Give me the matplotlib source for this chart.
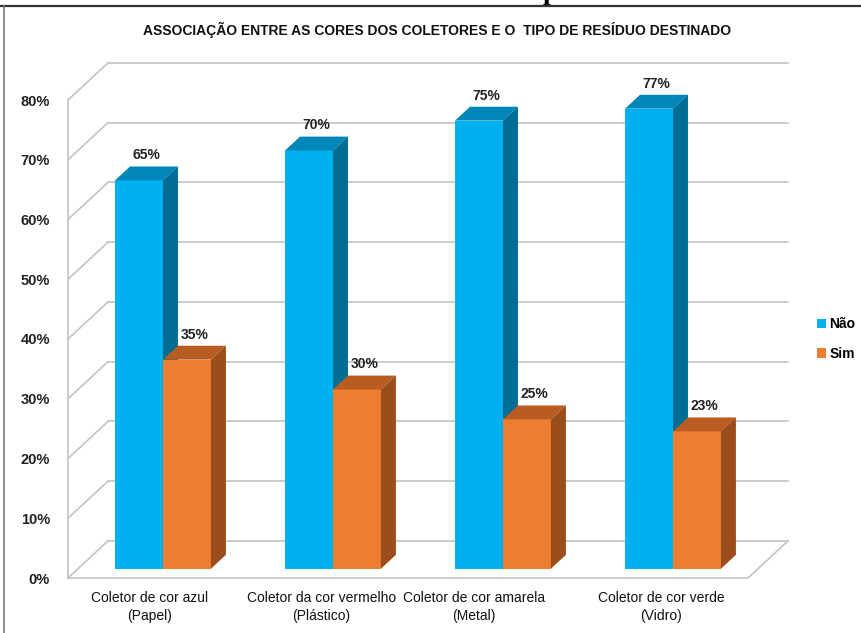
import numpy as np
import matplotlib
matplotlib.use("Agg")
import matplotlib.pyplot as plt
from matplotlib.patches import Polygon
from matplotlib.lines import Line2D

# --- data ---
categories = [
    "Coletor de cor azul\n(Papel)",
    "Coletor da cor vermelho\n(Plástico)",
    "Coletor de cor amarela\n(Metal)",
    "Coletor de cor verde\n(Vidro)",
]
nao = [65, 70, 75, 77]
sim = [35, 30, 25, 23]
series_names = ["Não", "Sim"]
yticks = list(range(0, 81, 10))

# --- style ---
FONT = ["Liberation Sans", "DejaVu Sans"]
plt.rcParams["font.family"] = FONT
GRID = "#c3c3c3"
faces = {
    "Não": ("#00b0f0", "#0086b8", "#006d94"),   # front, top, side
    "Sim": ("#ed7d31", "#b85c22", "#9b4d1c"),
}

# pseudo-3d geometry (data units)
DX, DY = 0.235, 6.2      # full depth of the floor
F0, FD = 0.25, 0.375     # bar front position / bar depth, as fraction of depth
W = 0.282                # bar width

fig = plt.figure(figsize=(8.62, 6.33), dpi=100)
ax = fig.add_axes([68 / 862, 55 / 633, 680 / 862, 478 / 633])
ax.set_xlim(-0.5, 3.5)
ax.set_ylim(0, 80)
for s in ["top", "right", "bottom"]:
    ax.spines[s].set_visible(False)
ax.spines["left"].set_color(GRID)
ax.spines["left"].set_linewidth(1.2)

# walls and floor
x0, x1 = -0.5, 3.5
for v in yticks:
    ax.plot([x0, x0 + DX], [v, v + DY], color=GRID, lw=1.2, clip_on=False, zorder=1)
    ax.plot([x0 + DX, x1 + DX], [v + DY, v + DY], color=GRID, lw=1.2, clip_on=False, zorder=1)
ax.plot([x0, x1, x1 + DX], [0, 0, DY], color=GRID, lw=1.2, clip_on=False, zorder=1)

# bars
xs = np.arange(len(categories))
for k, (name, vals) in enumerate(zip(series_names, [nao, sim])):
    front, top, side = faces[name]
    left = xs - W + k * W + F0 * DX
    bars = ax.bar(left, vals, width=W, bottom=F0 * DY, align="edge",
                  color=front, label=name, zorder=3 + k, clip_on=False)
    for xl, v in zip(left, vals):
        yt = v + F0 * DY
        yb = F0 * DY
        xr = xl + W
        ddx, ddy = FD * DX, FD * DY
        ax.add_patch(Polygon([(xl, yt), (xr, yt), (xr + ddx, yt + ddy), (xl + ddx, yt + ddy)],
                             closed=True, facecolor=top, edgecolor="none", zorder=3 + k, clip_on=False))
        ax.add_patch(Polygon([(xr, yb), (xr, yt), (xr + ddx, yt + ddy), (xr + ddx, yb + ddy)],
                             closed=True, facecolor=side, edgecolor="none", zorder=3 + k, clip_on=False))
        ax.text(xl + W / 2 + ddx / 2, yt + ddy + 0.7, f"{v}%", ha="center", va="bottom",
                fontsize=10, fontweight="bold", color="#222222", zorder=10)

# axes labels
ax.set_yticks(yticks)
ax.set_yticklabels([f"{v}%" for v in yticks], fontsize=10.5, fontweight="bold", color="#222222")
ax.tick_params(axis="y", length=0, pad=13)
ax.set_xticks([])
label_shift = [-0.02, -0.01, -0.11, -0.01]
for i, lab in enumerate(categories):
    ax.text(i + label_shift[i], -2.2, lab, ha="center", va="top", fontsize=10,
            color="#111111", linespacing=1.35)

fig.text(437 / 862, 1 - 30 / 633, "ASSOCIAÇÃO ENTRE AS CORES DOS COLETORES E O  TIPO DE RESÍDUO DESTINADO",
         ha="center", va="center", fontsize=10, fontweight="bold", color="#111111")

leg = fig.legend(loc="center left", bbox_to_anchor=(817 / 862, 1 - 339 / 633), frameon=False,
                 borderpad=0, borderaxespad=0,
                 handlelength=0.65, handleheight=0.65, handletextpad=0.25, labelspacing=1.15,
                 prop={"family": FONT, "weight": "bold", "size": 10})

# page frame and cut-off caption letter
fig.add_artist(Line2D([0, 1], [1 - 5.5 / 633, 1 - 5.5 / 633], color="#333333", lw=1.6))
fig.add_artist(Line2D([4 / 862, 4 / 862], [0, 1 - 5.5 / 633], color="#777777", lw=1.2))
fig.text(543 / 862, 1 + 1 / 633, "p", ha="left", va="baseline", fontsize=20,
         family="Liberation Serif", fontweight="bold", color="black")

fig.savefig("out.png", dpi=100, facecolor="white")
